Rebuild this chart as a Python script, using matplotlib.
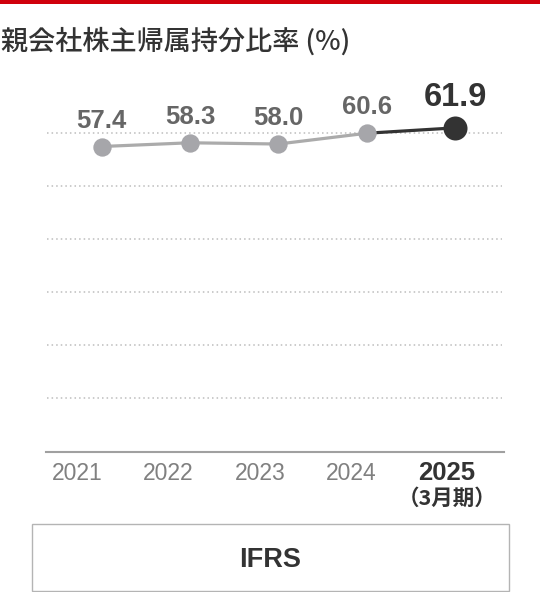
import numpy as np
import matplotlib
matplotlib.use("Agg")
import matplotlib.pyplot as plt
from matplotlib.patches import Rectangle
from matplotlib.transforms import blended_transform_factory

# ---- data ----
title = "親会社株主帰属持分比率 (%)"
years = ["2021", "2022", "2023", "2024", "2025"]
values = [57.4, 58.3, 58.0, 60.6, 61.9]
value_labels = ["57.4", "58.3", "58.0", "60.6", "61.9"]
period_note = "（3月期）"
standard = "IFRS"

LATIN = ["Liberation Sans", "Noto Sans CJK JP", "DejaVu Sans"]
CJK = ["Noto Sans CJK JP", "DejaVu Sans"]

W, H = 540, 592
fig = plt.figure(figsize=(W / 100, H / 100), dpi=100)
fig.patch.set_facecolor("white")

# red top bar
fig.add_artist(Rectangle((0, 1 - 4 / H), 1, 4 / H, transform=fig.transFigure,
                         facecolor="#d0000c", edgecolor="none"))
# title
fig.text(1 / W, 1 - 41 / H, title, family=CJK, fontsize=19.5, color="#333333",
         ha="left", va="center", fontweight="medium")

# axes
ax_left, ax_right, ax_top, ax_bottom = 46, 504, 100, 452
ax = fig.add_axes([ax_left / W, 1 - ax_bottom / H, (ax_right - ax_left) / W,
                   (ax_bottom - ax_top) / H])
ax.set_facecolor("none")
for s in ["left", "right", "top"]:
    ax.spines[s].set_visible(False)
ax.spines["bottom"].set_color("#a0a0a0")
ax.spines["bottom"].set_linewidth(1.5)
ax.set_xticks([])
ax.set_yticks([])

x = np.arange(len(years))
ax.set_xlim(-0.631, 4.555)
ax.set_ylim(-16.3, 68.62)

# dotted guide lines (axes fraction)
for g in [133.3, 186, 239.3, 292, 345, 398.3]:
    f = (ax_bottom - g) / (ax_bottom - ax_top)
    ax.plot([0.0015, 0.9956], [f, f], transform=ax.transAxes, color="#bdbdbd",
            lw=1.1, linestyle=(0, (1, 2)), solid_capstyle="butt", zorder=1)

grey = "#a6a6aa"
dark = "#333333"
# lines
ax.plot(x[:4], values[:4], color="#ababab", lw=2.3, zorder=2, solid_capstyle="butt")
ax.plot(x[3:], values[3:], color=dark, lw=2.3, zorder=2, solid_capstyle="butt")
# markers
ax.plot(x[:4], values[:4], "o", color=grey, markersize=13.2, markeredgewidth=0, zorder=3)
ax.plot(x[4:], values[4:], "o", color=dark, markersize=17.3, markeredgewidth=0, zorder=3)

# value labels
for i, (xi, v, lab) in enumerate(zip(x, values, value_labels)):
    last = i == len(values) - 1
    ax.annotate(lab, (xi, v), xytext=(0, 22 if last else 19), textcoords="offset pixels",
                ha="center", va="baseline", family=LATIN, fontweight="bold",
                fontsize=23.5 if last else 18.5, color=dark if last else "#666666",
                zorder=4)

# year labels
trans = blended_transform_factory(ax.transAxes, ax.transAxes)
y_year = (ax_bottom - 473.5) / (ax_bottom - ax_top)
for k, yr in enumerate(years):
    last = k == len(years) - 1
    ax.text((k + 0.06) / len(years), y_year, yr, transform=trans, ha="left", va="center",
            family=LATIN, fontsize=18.5 if last else 16.5,
            fontweight="bold" if last else "normal",
            color=dark if last else "#808080", clip_on=False)
ax.text((447 - ax_left) / (ax_right - ax_left), (ax_bottom - 498.5) / (ax_bottom - ax_top),
        period_note, transform=trans, ha="center", va="center", family=CJK,
        fontsize=15.5, fontweight="bold", color=dark, clip_on=False)

# IFRS box
fig.add_artist(Rectangle((31.7 / W, 1 - 591 / H), (508.7 - 31.7) / W, (591 - 524.3) / H,
                         transform=fig.transFigure, facecolor="none",
                         edgecolor="#b4b4b4", lw=1.0))
fig.text(270.5 / W, 1 - 560 / H, standard, family=LATIN, fontweight="bold",
         fontsize=19.5, color=dark, ha="center", va="center")

fig.savefig("out.png", dpi=100, facecolor="white")
